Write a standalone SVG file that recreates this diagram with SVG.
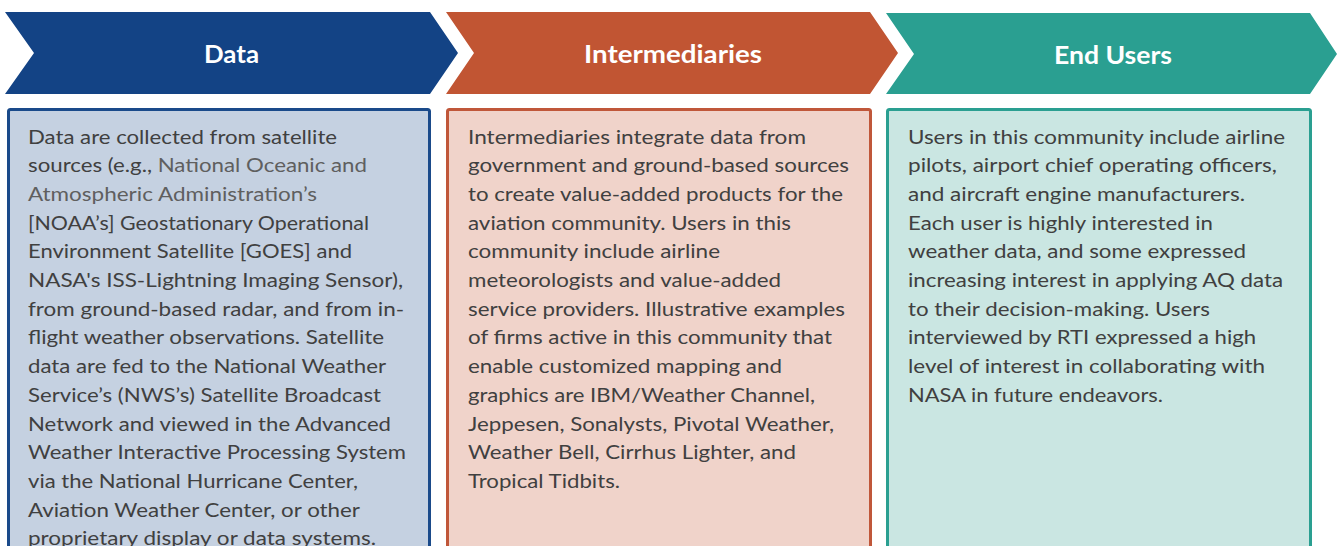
<svg xmlns="http://www.w3.org/2000/svg" width="1337" height="546" viewBox="0 0 1337 546">
<style>
.hd{font-family:Lato,"Open Sans","Liberation Sans",sans-serif;font-weight:bold;font-size:24px;fill:#ffffff;text-anchor:middle}
.bt{font-family:Lato,"Open Sans","Liberation Sans",sans-serif;font-size:19.5px;fill:#404040}
.gr{fill:#5f5f5f}
.box{stroke-width:3}
</style>
<rect width="1337" height="546" fill="#ffffff"/>
<g id="data">
<polygon points="5,12 430,12 458,53 430,94 5,94 34,53" fill="#134385"/>
<text class="hd" x="231.5" y="62.5" textLength="55" lengthAdjust="spacingAndGlyphs">Data</text>
<rect class="box" x="8.5" y="109.5" width="421" height="460" rx="2" fill="#C5D1E1" stroke="#1A4A8A"/>
<g class="bt">
<text x="28" y="143.5" textLength="309" lengthAdjust="spacingAndGlyphs">Data are collected from satellite</text>
<text x="28" y="172.2" textLength="339" lengthAdjust="spacingAndGlyphs">sources (e.g., <tspan class="gr">National Oceanic and</tspan></text>
<text x="28" y="200.9" textLength="289" lengthAdjust="spacingAndGlyphs" class="gr">Atmospheric Administration’s</text>
<text x="28" y="229.6" textLength="341" lengthAdjust="spacingAndGlyphs">[NOAA’s] Geostationary Operational</text>
<text x="28" y="258.3" textLength="324" lengthAdjust="spacingAndGlyphs">Environment Satellite [GOES] and</text>
<text x="28" y="287" textLength="375" lengthAdjust="spacingAndGlyphs">NASA's ISS-Lightning Imaging Sensor),</text>
<text x="28" y="315.7" textLength="376" lengthAdjust="spacingAndGlyphs">from ground-based radar, and from in-</text>
<text x="28" y="344.4" textLength="356" lengthAdjust="spacingAndGlyphs">flight weather observations. Satellite</text>
<text x="28" y="373.1" textLength="358" lengthAdjust="spacingAndGlyphs">data are fed to the National Weather</text>
<text x="28" y="401.8" textLength="353" lengthAdjust="spacingAndGlyphs">Service’s (NWS’s) Satellite Broadcast</text>
<text x="28" y="430.5" textLength="363" lengthAdjust="spacingAndGlyphs">Network and viewed in the Advanced</text>
<text x="28" y="459.2" textLength="378" lengthAdjust="spacingAndGlyphs">Weather Interactive Processing System</text>
<text x="28" y="487.9" textLength="330" lengthAdjust="spacingAndGlyphs">via the National Hurricane Center,</text>
<text x="28" y="516.6" textLength="332" lengthAdjust="spacingAndGlyphs">Aviation Weather Center, or other</text>
<text x="28" y="545.3" textLength="348" lengthAdjust="spacingAndGlyphs">proprietary display or data systems.</text>
</g>
</g>
<g id="intermediaries">
<polygon points="446,12 870,12 898,53 870,94 446,94 474,53" fill="#C15533"/>
<text class="hd" x="673" y="62.5" textLength="178" lengthAdjust="spacingAndGlyphs">Intermediaries</text>
<rect class="box" x="447.5" y="109.5" width="423" height="460" rx="2" fill="#F0D3CA" stroke="#C0573A"/>
<g class="bt">
<text x="468" y="143.5" textLength="338" lengthAdjust="spacingAndGlyphs">Intermediaries integrate data from</text>
<text x="468" y="172.2" textLength="381" lengthAdjust="spacingAndGlyphs">government and ground-based sources</text>
<text x="468" y="200.9" textLength="375" lengthAdjust="spacingAndGlyphs">to create value-added products for the</text>
<text x="468" y="229.6" textLength="323" lengthAdjust="spacingAndGlyphs">aviation community. Users in this</text>
<text x="468" y="258.3" textLength="252" lengthAdjust="spacingAndGlyphs">community include airline</text>
<text x="468" y="287" textLength="313" lengthAdjust="spacingAndGlyphs">meteorologists and value-added</text>
<text x="468" y="315.7" textLength="377" lengthAdjust="spacingAndGlyphs">service providers. Illustrative examples</text>
<text x="468" y="344.4" textLength="364" lengthAdjust="spacingAndGlyphs">of firms active in this community that</text>
<text x="468" y="373.1" textLength="314" lengthAdjust="spacingAndGlyphs">enable customized mapping and</text>
<text x="468" y="401.8" textLength="347" lengthAdjust="spacingAndGlyphs">graphics are IBM/Weather Channel,</text>
<text x="468" y="430.5" textLength="366" lengthAdjust="spacingAndGlyphs">Jeppesen, Sonalysts, Pivotal Weather,</text>
<text x="468" y="459.2" textLength="328" lengthAdjust="spacingAndGlyphs">Weather Bell, Cirrhus Lighter, and</text>
<text x="468" y="487.9" textLength="152" lengthAdjust="spacingAndGlyphs">Tropical Tidbits.</text>
</g>
</g>
<g id="end-users">
<polygon points="886,13 1310,13 1337,54 1310,94 886,94 914,54" fill="#2A9F91"/>
<text class="hd" x="1113" y="63.5" textLength="118" lengthAdjust="spacingAndGlyphs">End Users</text>
<rect class="box" x="887.5" y="109.5" width="423" height="460" rx="2" fill="#CAE6E2" stroke="#2A9F91"/>
<g class="bt">
<text x="908" y="143.5" textLength="377" lengthAdjust="spacingAndGlyphs">Users in this community include airline</text>
<text x="908" y="172.2" textLength="369" lengthAdjust="spacingAndGlyphs">pilots, airport chief operating officers,</text>
<text x="908" y="200.9" textLength="337" lengthAdjust="spacingAndGlyphs">and aircraft engine manufacturers.</text>
<text x="908" y="229.6" textLength="305" lengthAdjust="spacingAndGlyphs">Each user is highly interested in</text>
<text x="908" y="258.3" textLength="338" lengthAdjust="spacingAndGlyphs">weather data, and some expressed</text>
<text x="908" y="287" textLength="375" lengthAdjust="spacingAndGlyphs">increasing interest in applying AQ data</text>
<text x="908" y="315.7" textLength="302" lengthAdjust="spacingAndGlyphs">to their decision-making. Users</text>
<text x="908" y="344.4" textLength="348" lengthAdjust="spacingAndGlyphs">interviewed by RTI expressed a high</text>
<text x="908" y="373.1" textLength="357" lengthAdjust="spacingAndGlyphs">level of interest in collaborating with</text>
<text x="908" y="401.8" textLength="255" lengthAdjust="spacingAndGlyphs">NASA in future endeavors.</text>
</g>
</g>
<g id="connectors"/>
</svg>
